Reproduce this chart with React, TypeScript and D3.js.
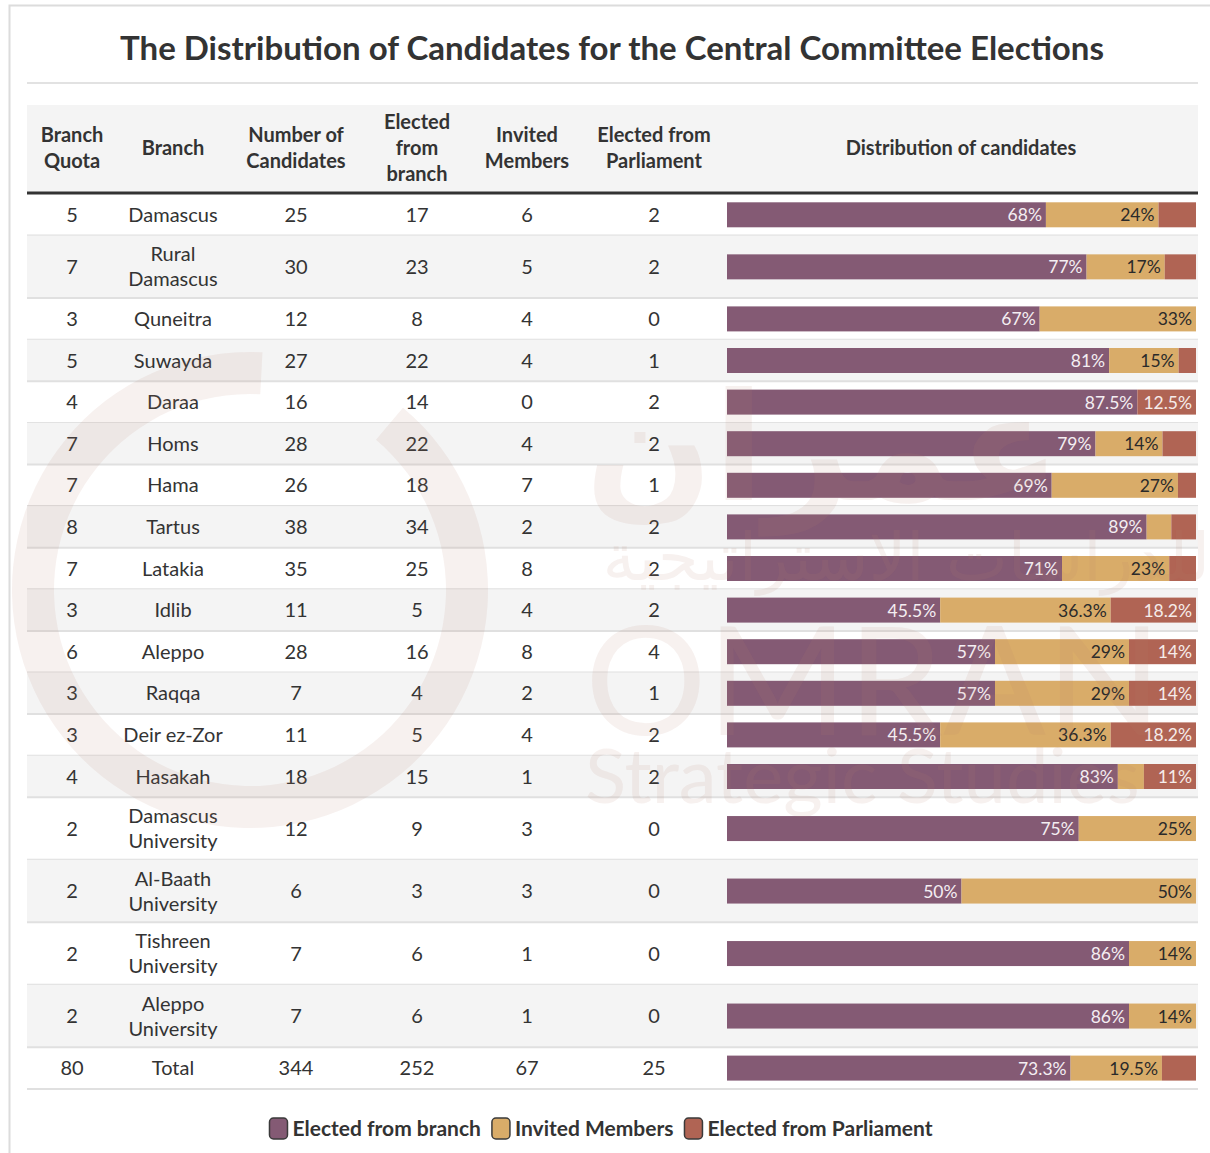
import React from "react";
import * as d3 from "d3";

const title = "The Distribution of Candidates for the Central Committee Elections";
const headers = [
  ["Branch", "Quota"],
  ["Branch"],
  ["Number of", "Candidates"],
  ["Elected", "from", "branch"],
  ["Invited", "Members"],
  ["Elected from", "Parliament"],
  ["Distribution of candidates"],
];
const branches = [
  ["Damascus"], ["Rural", "Damascus"], ["Quneitra"], ["Suwayda"], ["Daraa"], ["Homs"], ["Hama"],
  ["Tartus"], ["Latakia"], ["Idlib"], ["Aleppo"], ["Raqqa"], ["Deir ez-Zor"], ["Hasakah"],
  ["Damascus", "University"], ["Al-Baath", "University"], ["Tishreen", "University"],
  ["Aleppo", "University"], ["Total"],
];
const quota = [5, 7, 3, 5, 4, 7, 7, 8, 7, 3, 6, 3, 3, 4, 2, 2, 2, 2, 80];
const candidates = [25, 30, 12, 27, 16, 28, 26, 38, 35, 11, 28, 7, 11, 18, 12, 6, 7, 7, 344];
const electedBranch = [17, 23, 8, 22, 14, 22, 18, 34, 25, 5, 16, 4, 5, 15, 9, 3, 6, 6, 252];
const invited = [6, 5, 4, 4, 0, 4, 7, 2, 8, 4, 8, 2, 4, 1, 3, 3, 1, 1, 67];
const parliament = [2, 2, 0, 1, 2, 2, 1, 2, 2, 2, 4, 1, 2, 2, 0, 0, 0, 0, 25];
const electedLabels = ["68%", "77%", "67%", "81%", "87.5%", "79%", "69%", "89%", "71%", "45.5%", "57%", "57%", "45.5%", "83%", "75%", "50%", "86%", "86%", "73.3%"];
const invitedLabels = ["24%", "17%", "33%", "15%", "", "14%", "27%", "", "23%", "36.3%", "29%", "29%", "36.3%", "", "25%", "50%", "14%", "14%", "19.5%"];
const parliamentLabels = ["", "", "", "", "12.5%", "", "", "", "", "18.2%", "14%", "14%", "18.2%", "11%", "", "", "", "", ""];
const seriesNames = ["Elected from branch", "Invited Members", "Elected from Parliament"];
const seriesColors = ["#845a74", "#d9ac69", "#b06454"];
const seriesTextColors = ["#f4eef2", "#2a2a2a", "#f6ecea"];

const FONT = "Lato, 'Source Sans Pro', 'Open Sans', sans-serif";
const colX = [72, 173, 296, 417, 527, 654, 961];
const TEXT = "#333";

function measure(text: string, font: string) {
  const c = document.createElement("canvas").getContext("2d");
  if (!c) return text.length * 10;
  c.font = font;
  return c.measureText(text).width;
}

export default function App() {
  const W = 1210, H = 1153;
  const headerTop = 105, headerBottom = 192;
  const bodyTop = 194;
  const singleH = 41.6, doubleH = 62.5;
  const heights = branches.map((b) => (b.length > 1 ? doubleH : singleH));
  const tops: number[] = [];
  let acc = bodyTop;
  heights.forEach((h) => { tops.push(acc); acc += h; });

  const x = d3.scaleLinear().domain([0, 1]).range([727, 1196]);
  const barH = 25;

  const stackData = candidates.map((c, i) => {
    const vals = [electedBranch[i], invited[i], parliament[i]];
    const labs = [electedLabels[i], invitedLabels[i], parliamentLabels[i]];
    let start = 0;
    return vals.map((v, k) => {
      const s = { k, x0: start / c, x1: (start + v) / c, label: labs[k] };
      start += v;
      return s;
    });
  });

  // legend layout
  const legendFont = `bold 21px ${FONT}`;
  const sw = 18, gapSw = 5, gapItem = 11;
  const widths = seriesNames.map((n) => sw + gapSw + measure(n, legendFont));
  const totalLegend = widths.reduce((a, b) => a + b, 0) + gapItem * (widths.length - 1);
  let lx = 601 - totalLegend / 2;
  const legendItems = seriesNames.map((n, i) => {
    const item = { name: n, x: lx, color: seriesColors[i] };
    lx += widths[i] + gapItem;
    return item;
  });

  const cellCols = [quota, null, candidates, electedBranch, invited, parliament];

  const ringArc = d3.arc()({
    innerRadius: 196,
    outerRadius: 238,
    startAngle: (40 * Math.PI) / 180,
    endAngle: (363 * Math.PI) / 180,
  } as any) as string;

  return (
    <div style={{ position: "absolute", left: 0, top: 0 }}>
      <svg width={W} height={H} style={{ display: "block", fontFamily: FONT }}>
        <rect x={0} y={0} width={W} height={H} fill="#fff" />
        <rect x={9.5} y={5.5} width={1220} height={1170} fill="none" stroke="#dcdcdc" strokeWidth={2} />
        <text x={612} y={60} textAnchor="middle" fontSize={33} fontWeight="bold" fill={TEXT}>{title}</text>
        <line x1={27} x2={1198} y1={83} y2={83} stroke="#e2e2e2" strokeWidth={2} />

        {/* header */}
        <rect x={27} y={headerTop} width={1171} height={headerBottom - headerTop} fill="#f4f4f4" />
        {headers.map((lines, i) => (
          <text key={i} textAnchor="middle" fontSize={20} fontWeight="bold" fill={TEXT}>
            {lines.map((l, j) => (
              <tspan key={j} x={colX[i]} y={148 + 7 + (j - (lines.length - 1) / 2) * 26}>{l}</tspan>
            ))}
          </text>
        ))}
        <line x1={27} x2={1198} y1={193} y2={193} stroke="#333" strokeWidth={3} />

        {/* rows */}
        {branches.map((b, i) => {
          const top = tops[i], h = heights[i], cy = top + h / 2;
          return (
            <g key={i}>
              {i % 2 === 1 && <rect x={27} y={top} width={1171} height={h} fill="#f4f4f4" />}
              <line x1={27} x2={1198} y1={top + h} y2={top + h} stroke="#e0e0e0" strokeWidth={2} />
              {cellCols.map((arr, c) =>
                c === 1 ? (
                  <text key={c} textAnchor="middle" fontSize={20} fill={TEXT}>
                    {b.map((l, j) => (
                      <tspan key={j} x={colX[1]} y={cy + 7 + (j - (b.length - 1) / 2) * 25}>{l}</tspan>
                    ))}
                  </text>
                ) : (
                  <text key={c} x={colX[c]} y={cy + 7} textAnchor="middle" fontSize={20} fill={TEXT}>
                    {(arr as number[])[i]}
                  </text>
                )
              )}
              {stackData[i].map((s) => (
                <g key={s.k}>
                  <rect x={x(s.x0)} y={cy - barH / 2} width={Math.max(0, x(s.x1) - x(s.x0))} height={barH} fill={seriesColors[s.k]} />
                  {s.label && (
                    <text x={x(s.x1) - 4} y={cy + 6.5} textAnchor="end" fontSize={17.5} fill={seriesTextColors[s.k]}>{s.label}</text>
                  )}
                </g>
              ))}
            </g>
          );
        })}

        {/* watermark */}
        <g fill="#b98070" opacity={0.11} style={{ pointerEvents: "none" }}>
          <path d={ringArc} transform="translate(250,590)" />
          <text x={585} y={500} fontSize={150} fontFamily="'DejaVu Sans', sans-serif" fontWeight="bold" textAnchor="start">عمران</text>
          <text x={1210} y={580} fontSize={66} fontFamily="'DejaVu Sans', sans-serif" textAnchor="end">للدراسات الاستراتيجية</text>
          <text x={585} y={735} fontSize={152} fontFamily={FONT}>OMRAN</text>
          <text x={585} y={803} fontSize={76} fontFamily={FONT}>Strategic Studies</text>
        </g>

        {/* legend */}
        {legendItems.map((it, i) => (
          <g key={i}>
            <rect x={it.x} y={1118} width={sw} height={21} rx={4} fill={it.color} stroke="#3a3a3a" strokeWidth={1.5} />
            <text x={it.x + sw + gapSw} y={1136} fontSize={21} fontWeight="bold" fill={TEXT}>{it.name}</text>
          </g>
        ))}
      </svg>
    </div>
  );
}
